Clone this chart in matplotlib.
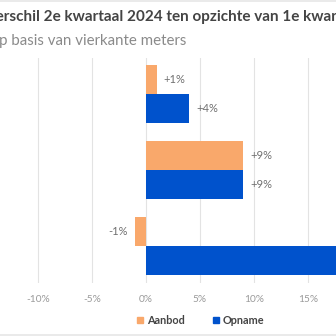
import matplotlib
matplotlib.use("Agg")
import matplotlib.pyplot as plt
from matplotlib.lines import Line2D
from matplotlib.patches import Patch

plt.rcParams['font.family'] = ['Lato', 'DejaVu Sans']

categories = ["Categorie 1", "Categorie 2", "Categorie 3"]
aanbod = [1, 9, -1]
opname = [4, 9, 20]
aanbod_labels = ["+1%", "+9%", "-1%"]
opname_labels = ["+4%", "+9%", "+20%"]
xticks = [-15, -10, -5, 0, 5, 10, 15, 20, 25]
xticklabels = ["-15%", "-10%", "-5%", "0%", "5%", "10%", "15%", "20%", "25%"]

c_orange = "#F9A86B"
c_blue = "#0052CC"

W = H = 336
fig = plt.figure(figsize=(3.36, 3.36), dpi=100)

# axes geometry in pixels (extends beyond figure as in cropped reference)
px_per = 10.8
x0 = 146
xmin, xmax = -15, 25
left = (x0 + xmin * px_per) / W
right = (x0 + xmax * px_per) / W
top_px, bot_px = 58, 283
ax = fig.add_axes([left, 1 - bot_px / H, right - left, (bot_px - top_px) / H])
ax.set_xlim(xmin, xmax)
ax.set_ylim(2.487, -0.474)

ys = list(range(len(categories)))
bh = 0.38
b1 = ax.barh([y - bh / 2 for y in ys], aanbod, height=bh, color=c_orange, zorder=3)
b2 = ax.barh([y + bh / 2 for y in ys], opname, height=bh, color=c_blue, zorder=3)

for bars, labels in ((b1, aanbod_labels), (b2, opname_labels)):
    for rect, lab in zip(bars, labels):
        v = rect.get_width()
        yc = rect.get_y() + rect.get_height() / 2
        if v >= 0:
            ax.annotate(lab, (v, yc), xytext=(5, 0), textcoords="offset points",
                        ha="left", va="center", fontsize=8, color="#707070")
        else:
            ax.annotate(lab, (v, yc), xytext=(-5, 0), textcoords="offset points",
                        ha="right", va="center", fontsize=8, color="#707070")

ax.set_xticks(xticks)
ax.set_xticklabels(xticklabels, fontsize=7.3, color="#9a9a9a")
ax.tick_params(axis="x", length=0, pad=9)
ax.set_yticks([])
ax.grid(axis="x", color="#e3e3e3", linewidth=0.8, zorder=0)
for s in ax.spines.values():
    s.set_visible(False)

fig.text(-15 / W, 1 - 17 / H, "Verschil 2e kwartaal 2024 ten opzichte van 1e kwartaal",
         ha="left", va="center", fontsize=11.0, fontweight="bold", color="#444444")
fig.text(-13 / W, 1 - 41 / H, "Op basis van vierkante meters",
         ha="left", va="center", fontsize=10.8, color="#8a8a8a")

handles = [Patch(color=c_orange, label="Aanbod"), Patch(color=c_blue, label="Opname")]
leg = fig.legend(handles=handles, loc="center", bbox_to_anchor=(201 / W, 1 - 320 / H),
                 ncol=2, frameon=False, fontsize=7.8, handlelength=0.5, handleheight=0.5,
                 handletextpad=0.4, columnspacing=2.6)
for t in leg.get_texts():
    t.set_color("#444444")
    t.set_fontweight("bold")

fig.add_artist(Line2D([0, 1], [1 - 0.5 / H, 1 - 0.5 / H], color="#e6e6e6", linewidth=1.2))
fig.add_artist(Line2D([0, 1], [1.2 / H, 1.2 / H], color="#e6e6e6", linewidth=1.2))

fig.savefig("out.png", dpi=100)
